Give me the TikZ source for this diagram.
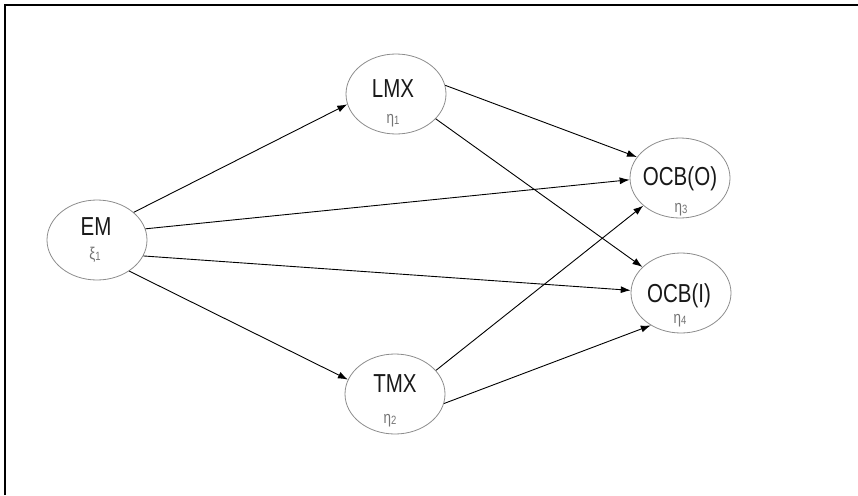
\documentclass[tikz,border=0pt]{standalone}
\usepackage{fontspec}
\setmainfont{Liberation Sans}
\newfontfamily\narrowsans[FakeStretch=0.79]{Liberation Sans}
\usetikzlibrary{shapes.geometric,arrows.meta}
\tikzset{
  construct/.style={ellipse, draw=black!45, line width=0.8pt, minimum width=100pt, minimum height=80pt, inner sep=0pt},
  title/.style={font=\narrowsans\fontsize{26}{26}\selectfont, text=black!90, inner sep=0pt, anchor=base},
  idx/.style={font=\narrowsans\fontsize{17}{17}\selectfont, text=black!55, inner sep=0pt},
  path/.style={draw=black, line width=0.9pt, -{Latex[length=10pt,width=7pt]}},
  frame/.style={draw=black, line width=1.8pt}
}
\newcommand{\ix}[2]{#1\raisebox{-1pt}{\fontsize{12}{12}\selectfont #2}}
\begin{document}
\begin{tikzpicture}[x=1pt,y=-1pt]
  \useasboundingbox (0,0) rectangle (858,495);
  % open frame: left and top edges
  \coordinate (fb) at (5,495);
  \coordinate (fc) at (5,5);
  \coordinate (fr) at (858,5);
  \draw[frame] (fb) -- (fc) -- (fr);

  % latent constructs
  \node[construct] (EM)   at (97,240)  {};
  \node[construct] (LMX)  at (396,94)  {};
  \node[construct] (TMX)  at (395,394) {};
  \node[construct] (OCBO) at (680,178) {};
  \node[construct] (OCBI) at (681,293) {};

  \node[title] (EMt)   at (96,235)  {EM};
  \node[title] (LMXt)  at (393,97)  {LMX};
  \node[title] (TMXt)  at (395,392) {TMX};
  \node[title] (OCBOt) at (680,185) {OCB(O)};
  \node[title] (OCBIt) at (679,302) {OCB(I)};

  \node[idx] (EMs)   at (95,255)  {\ix{ξ}{1}};
  \node[idx] (LMXs)  at (393,121) {\ix{η}{1}};
  \node[idx] (TMXs)  at (390,421) {\ix{η}{2}};
  \node[idx] (OCBOs) at (681,210) {\ix{η}{3}};
  \node[idx] (OCBIs) at (680,321) {\ix{η}{4}};

  % structural paths
  \draw[path] (EM.37)   -- (LMX.192);
  \draw[path] (EM.13)   -- (OCBO.182);
  \draw[path] (EM.-19)  -- (OCBI.177);
  \draw[path] (EM.-44)  -- (TMX.163);
  \draw[path] (LMX.10)  -- (OCBO.154);
  \draw[path] (LMX.-32) -- (OCBI.146);
  \draw[path] (TMX.30)  -- (OCBO.217);
  \draw[path] (TMX.-11) -- (OCBI.227);
\end{tikzpicture}
\end{document}
